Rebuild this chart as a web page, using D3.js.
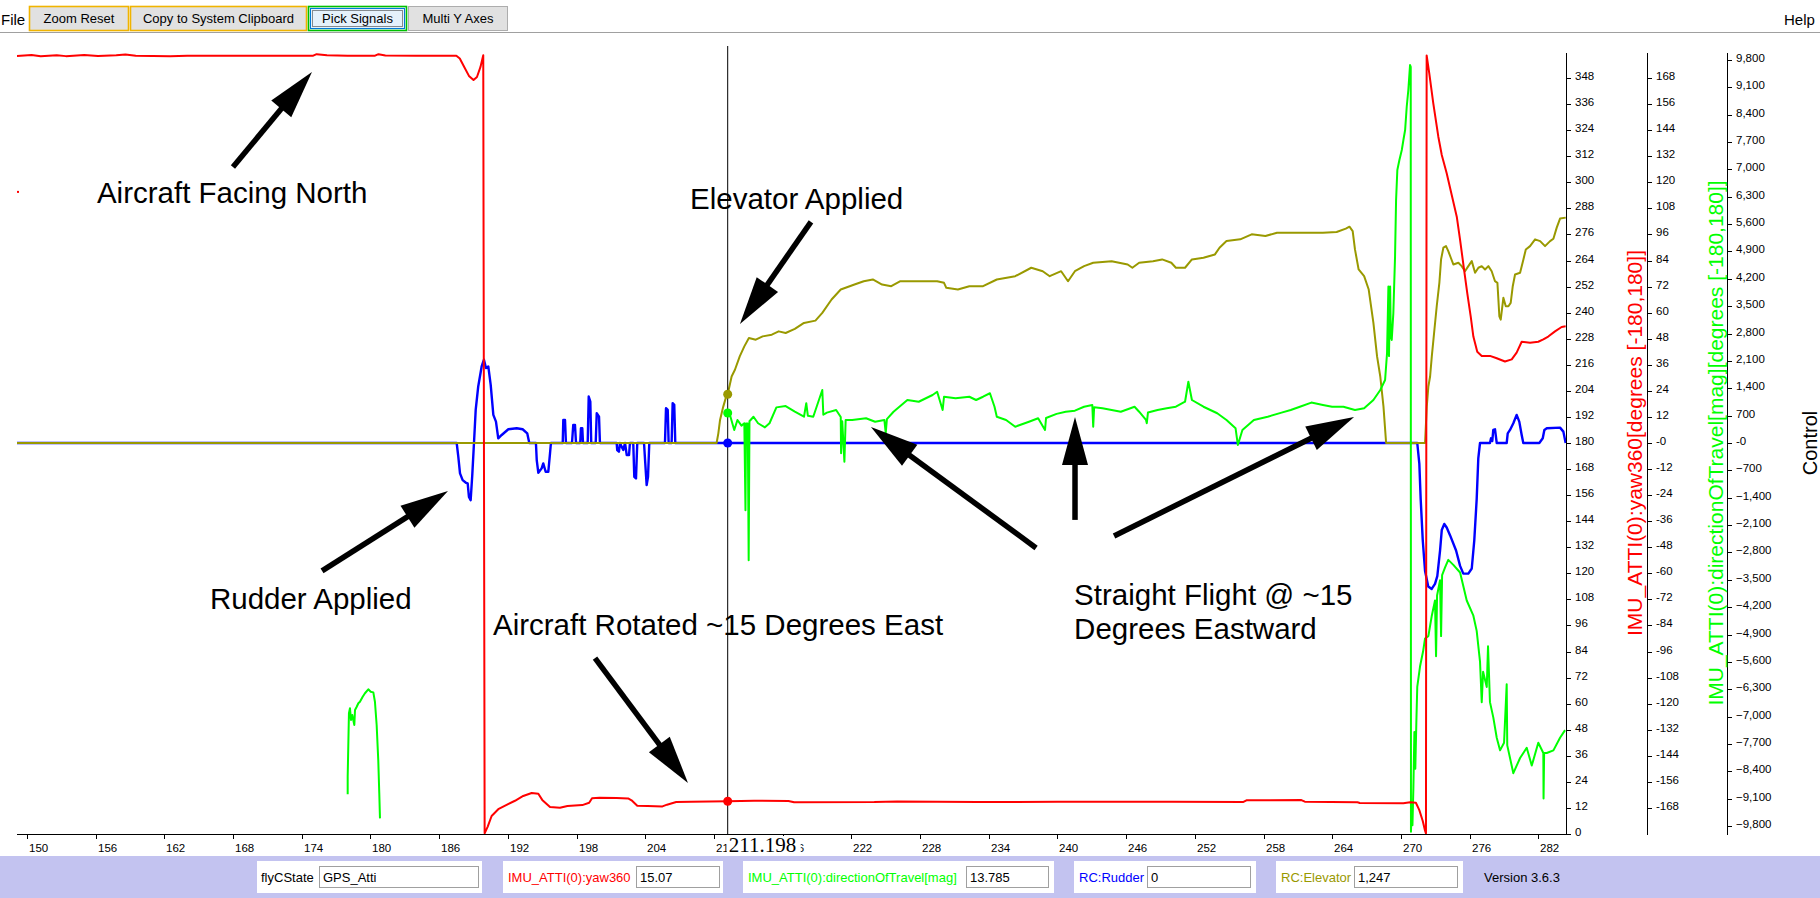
<!DOCTYPE html>
<html><head><meta charset="utf-8">
<script src="https://cdn.jsdelivr.net/npm/d3@7"></script>
<style>
html,body{margin:0;padding:0;background:#fff;overflow:hidden}
svg{display:block;font-family:"Liberation Sans",Arial,sans-serif}
</style></head><body>
<svg id="c" width="1820" height="898"></svg>
<script>
// ---------------- DATA (time in seconds, values in series units) ----------------
const yawTrace = [
[149.13,358.2],[150.4,358.6],[151.2,358.0],[152.6,358.5],[153.4,358.1],[155.0,358.6],[156.2,358.2],[157.8,358.5],[158.6,358.9],[159.5,358.3],[161.0,358.2],[162.5,358.0],[164.0,358.3],[167.0,358.3],[171.0,358.3],[175.0,358.3],[175.3,359.0],[176.2,358.5],[178.0,358.3],[180.4,358.3],[180.7,359.0],[181.3,358.4],[184.0,358.3],[187.5,358.3],[187.8,357.0],[188.2,353.0],[188.6,349.0],[189.0,347.1],[189.3,348.5],[189.6,353.0],[189.85,358.5],
[189.97,0.3],[190.24,3.4],[190.58,8.3],[191.16,11.4],[191.89,13.4],[192.62,15.3],[193.34,17.5],[194.08,18.9],[194.66,18.5],[195.0,15.7],[195.68,12.4],[196.55,12.1],[197.2,12.9],[198.5,13.3],[199.1,14.4],[199.35,16.5],[200.0,16.7],[201.5,16.6],[202.5,16.4],[202.8,15.5],[203.3,13.0],[204.2,12.9],[205.5,12.7],[205.9,13.5],[206.7,14.7],[208.0,14.8],[211.198,15.07],[213.5,15.3],[216.5,15.2],[217.0,14.6],[224.0,14.7],[226.0,15.0],[233.0,14.7],[240.0,14.8],[250.0,14.9],[256.2,14.7],[256.5,15.5],[261.3,15.6],[261.6,14.9],[266.2,14.6],[266.4,14.3],[270.2,14.2],[270.8,14.6],[271.3,14.4],[271.6,11.0],[271.9,6.0],[272.1,1.5],[272.18,0.2],
[272.24,358.4],[272.47,350.2],[272.82,336.4],[273.26,321.0],[273.56,312.6],[273.99,304.2],[274.43,294.2],[274.87,284.2],[275.16,273.5],[275.51,259.7],[275.79,248.9],[276.09,238.2],[276.32,229.0],[276.66,222.0],[277.05,220.1],[277.77,220.1],[278.36,219.0],[279.08,217.5],[279.67,218.5],[280.10,221.6],[280.54,226.6],[281.27,226.2],[281.99,226.6],[282.43,227.7],[282.86,229.0],[283.45,231.4],[284.03,233.4],[284.38,233.7]
];
const yawStray = [[149.13,295.6]];

const dirTraceA = [
[178.01,-161.7],[178.01,-153.6],[178.12,-124.4],[178.21,-122.1],[178.30,-127.5],[178.41,-125.2],[178.59,-129.8],[178.65,-122.9],[178.80,-121.4],[178.94,-119.8],[179.08,-119.1],[179.32,-116.8],[179.52,-115.2],[179.81,-113.4],[180.02,-114.5],[180.25,-114.8],[180.39,-119.1],[180.54,-129.8],[180.68,-145.9],[180.77,-161.3],[180.83,-172.8]
];
const dirTraceB = [
[211.0,13.0],[211.198,13.785],[211.44,12.1],[211.77,6.0],[212.05,10.6],[212.4,8.0],[212.65,9.1],[212.75,-31.0],[212.8,9.0],[212.95,9.0],[213.03,-54.0],[213.1,10.0],[213.45,12.1],[213.85,9.1],[214.45,7.2],[214.85,9.1],[215.45,16.4],[216.26,17.0],[217.06,14.4],[217.86,12.1],[218.06,18.3],[218.2,12.5],[218.67,12.1],[219.46,24.4],[219.55,13.0],[219.86,14.0],[220.67,15.2],[221.07,12.0],[221.1,-4.7],[221.2,10.0],[221.39,-8.6],[221.5,10.6],[222.07,10.6],[223.28,11.4],[224.07,9.8],[224.88,10.6],[225.0,4.5],[225.1,11.0],[225.68,14.4],[226.89,19.8],[227.88,19.0],[229.09,22.1],[229.49,23.6],[229.97,15.2],[230.09,21.3],[231.10,20.6],[232.30,21.3],[232.89,19.8],[233.50,21.3],[234.10,22.9],[234.50,16.7],[234.70,12.1],[235.51,10.6],[236.31,7.5],[237.51,9.8],[238.31,11.4],[238.91,6.0],[239.0,11.5],[239.92,13.4],[240.72,14.4],[241.52,14.9],[242.32,16.7],[243.04,17.5],[243.12,7.5],[243.2,16.5],[243.93,16.0],[244.73,15.2],[245.53,14.4],[246.73,16.7],[247.13,14.4],[247.73,10.6],[247.8,9.1],[247.9,14.0],[248.74,15.2],[249.54,16.0],[250.34,16.7],[251.14,19.0],[251.43,28.2],[251.74,19.8],[252.75,16.7],[253.95,13.7],[254.76,10.6],[255.55,6.8],[255.75,-0.9],[256.15,6.0],[257.15,10.6],[258.36,12.1],[259.57,14.0],[260.37,15.2],[261.17,16.7],[262.17,18.6],[263.18,17.5],[263.98,16.7],[264.97,16.7],[265.98,15.2],[266.78,16.0],[267.59,19.8],[268.19,24.4],[268.61,29.0],[268.78,41.3],[268.90,72.0],[268.95,40.0],[269.05,72.0],[269.11,48.9],[269.19,47.4],[269.33,59.7],[269.48,85.8],[269.57,111.9],[269.68,125.7],[269.86,130.3],[270.07,134.9],[270.21,139.5],[270.36,144.1],[270.50,154.8],[270.64,162.5],[270.79,174.0],[270.85,173.2],
[270.87,-179.0],[270.94,-166.0],[271.0,-176.0],[271.08,-159.0],[271.17,-133.0],[271.25,-150.0],[271.34,-128.6],[271.42,-112.3],[271.66,-102.9],[271.93,-95.9],[272.10,-90.0],[272.39,-88.9],[272.69,-79.5],[272.97,-72.5],[273.06,-98.2],[273.15,-70.2],[273.41,-63.2],[273.50,-88.9],[273.59,-60.8],[273.85,-57.3],[274.13,-53.8],[274.57,-56.1],[275.16,-59.6],[275.74,-72.5],[276.32,-79.5],[276.61,-86.5],[276.90,-100.6],[277.05,-119.3],[277.17,-105.3],[277.49,-112.3],[277.60,-93.6],[277.77,-119.3],[278.06,-126.3],[278.36,-135.7],[278.65,-141.5],[279.00,-138.0],[279.23,-111.1],[279.28,-139.2],[279.81,-152.0],[280.40,-145.0],[280.98,-140.3],[281.42,-148.5],[281.99,-138.0],[282.43,-142.7],[282.45,-163.7],[282.50,-142.7],[282.73,-142.7],[283.31,-141.5],[283.89,-135.7],[284.33,-132.2]
];

const rudderTrace = [
[149.13,0],[187.53,0],[187.67,-350],[187.82,-778],[188.05,-949],[188.34,-1018],[188.49,-1035],[188.60,-1377],[188.75,-1463],[188.89,-820],[189.04,0],[189.19,847],[189.41,1445],[189.71,1958],[189.91,2130],[190.09,1916],[190.29,1958],[190.50,1488],[190.73,718],[190.96,547],[191.16,120],[191.46,205],[192.04,351],[192.77,377],[193.29,351],[193.69,248],[193.87,0],[194.45,0],[194.52,-436],[194.66,-761],[194.95,-649],[195.09,-521],[195.30,-736],[195.53,-736],[195.68,-264],[195.76,0],
[196.79,0],[196.84,590],[196.99,590],[197.07,0],[197.60,0],[197.71,462],[197.86,462],[197.95,0],[198.32,0],[198.38,377],[198.50,377],[198.56,0],[198.97,0],[199.06,1188],[199.20,1060],[199.28,0],[199.67,0],[199.76,762],[199.96,675],[200.04,0],
[201.50,0],[201.55,-180],[201.70,-223],[201.79,0],[201.94,-95],[202.08,-180],[202.23,0],[202.38,-308],[202.58,-308],[202.66,0],[202.95,0],[203.04,-864],[203.19,-906],[203.30,0],[203.89,0],[204.00,-521],[204.12,-1077],[204.24,-864],[204.35,0],
[205.72,0],[205.81,890],[205.96,847],[206.04,0],[206.30,0],[206.39,1018],[206.53,975],[206.62,0],
[271.42,0],[271.60,-526],[271.72,-1437],[271.90,-2488],[272.10,-3273],[272.38,-3669],[272.68,-3733],[272.97,-3602],[273.17,-3404],[273.41,-2750],[273.56,-2227],[273.78,-2071],[273.99,-2161],[274.28,-2357],[274.81,-2750],[275.16,-3143],[275.44,-3340],[275.88,-3340],[276.18,-3210],[276.40,-2488],[276.61,-1437],[276.75,-395],[276.90,0],[277.77,0],[277.86,120],[277.97,50],[278.06,334],[278.21,351],[278.36,0],[279.23,0],[279.32,248],[279.52,334],[279.81,505],[280.10,718],[280.33,547],[280.54,205],[280.68,0],[282.08,0],[282.38,120],[282.52,334],[282.73,377],[283.89,393],[284.18,291],[284.38,0]
];

const elevatorTrace = [
[149.13,0],[210.23,0],[210.38,248],[210.53,590],[210.81,931],[211.11,1231],[211.198,1247],[211.54,1701],[211.83,1873],[212.25,2214],[212.65,2471],[213.05,2686],[213.65,2642],[214.25,2727],[215.05,2771],[215.65,2855],[216.26,2814],[217.06,2917],[217.86,3071],[218.86,3130],[219.46,3327],[220.27,3669],[221.07,3925],[222.27,4053],[223.08,4138],[223.87,4182],[224.68,4053],[225.48,4010],[226.28,4138],[227.89,4138],[229.49,4138],[230.09,4097],[230.29,3969],[231.30,3925],[232.30,4010],[233.50,4010],[234.70,4182],[236.31,4266],[237.71,4482],[238.71,4394],[239.32,4266],[240.32,4394],[240.92,4138],[241.52,4394],[242.32,4523],[243.12,4609],[244.73,4651],[246.13,4566],[246.54,4482],[247.13,4609],[248.34,4651],[249.14,4695],[249.94,4609],[250.34,4482],[251.14,4482],[251.74,4695],[252.75,4738],[253.75,4823],[254.15,4995],[254.76,5164],[255.96,5208],[256.96,5336],[258.16,5293],[259.17,5379],[261.17,5379],[263.18,5379],[264.38,5395],[265.18,5482],[265.50,5533],[265.78,5421],[265.98,4951],[266.30,4438],[266.78,4266],[267.18,3925],[267.59,3071],[267.91,2214],[268.19,1701],[268.47,931],[268.70,0],
[272.10,0],[272.25,931],[272.39,1445],[272.54,1701],[272.69,2214],[272.89,2814],[273.12,3497],[273.35,4097],[273.50,4695],[273.70,4995],[273.93,5036],[274.13,4908],[274.35,4738],[274.57,4566],[275.01,4609],[275.30,4523],[275.59,4394],[275.88,4523],[276.18,4651],[276.47,4353],[276.76,4482],[277.05,4523],[277.34,4438],[277.63,4523],[277.92,4394],[278.21,4138],[278.42,4097],[278.59,3240],[278.71,3155],[278.94,3712],[279.15,3497],[279.38,3497],[279.58,3583],[279.76,4010],[279.96,4310],[280.40,4353],[280.69,4695],[280.90,4951],[281.27,5036],[281.71,5208],[282.15,5164],[282.58,5036],[283.02,5164],[283.31,5225],[283.60,5508],[283.89,5739],[284.39,5764]
];

const cursorT = 211.198;
const cursorYaw = 15.07, cursorDir = 13.785, cursorRudder = 0, cursorElevator = 1247;

const xTickValues = [150,156,162,168,174,180,186,192,198,204,210,216,222,228,234,240,246,252,258,264,270,276,282];
const yawTickValues = [0,12,24,36,48,60,72,84,96,108,120,132,144,156,168,180,192,204,216,228,240,252,264,276,288,300,312,324,336,348];
const dirTickValues = [-168,-156,-144,-132,-120,-108,-96,-84,-72,-60,-48,-36,-24,-12,0,12,24,36,48,60,72,84,96,108,120,132,144,156,168];
const rcTickValues = [-9800,-9100,-8400,-7700,-7000,-6300,-5600,-4900,-4200,-3500,-2800,-2100,-1400,-700,0,700,1400,2100,2800,3500,4200,4900,5600,6300,7000,7700,8400,9100,9800];

const axisTitles = ["IMU_ATTI(0):yaw360[degrees [-180,180]]","IMU_ATTI(0):directionOfTravel[mag][degrees [-180,180]]","Control"];
const toolbarButtons = ["Zoom Reset","Copy to System Clipboard","Pick Signals","Multi Y Axes"];
const statusLabels = ["flyCState","IMU_ATTI(0):yaw360","IMU_ATTI(0):directionOfTravel[mag]","RC:Rudder","RC:Elevator"];
const statusValues = ["GPS_Atti","15.07","13.785","0","1,247"];
const versionText = "Version 3.6.3";

// annotations anchored in (time, yaw360-degree) chart coordinates
const noteTexts = [
  {text:"Aircraft Facing North", t:156.11, v:290.5},
  {text:"Elevator Applied", t:207.91, v:287.8},
  {text:"Rudder Applied", t:165.98, v:103.6},
  {text:"Aircraft Rotated ~15 Degrees East", t:190.70, v:91.6},
  {text:"Straight Flight @ ~15", t:241.45, v:105.4},
  {text:"Degrees Eastward", t:241.45, v:89.8}
];
const noteArrows = [
  {t1:167.99, v1:307.1, t2:174.89, v2:350.8},
  {t1:218.47, v1:281.8, t2:212.27, v2:234.8},
  {t1:175.77, v1:121.1, t2:186.77, v2:157.9},
  {t1:199.61, v1:81.0, t2:207.73, v2:23.5},
  {t1:238.13, v1:131.7, t2:223.71, v2:187.4},
  {t1:241.53, v1:144.6, t2:241.53, v2:192.0},
  {t1:244.94, v1:137.2, t2:265.90, v2:192.0}
];

// ---------------- LAYOUT ----------------
const W = 1820, H = 898;
const P = {left:17, right:1566, top:52, bottom:834};
const COL = {yaw:"#ff0000", dir:"#00ff00", rudder:"#0000ff", elev:"#999900"};
const svg = d3.select("#c");

const x = d3.scaleLinear().domain([149.13, 284.41]).range([P.left, P.right]);
const yYaw = d3.scaleLinear().domain([0,360]).range([P.bottom, P.top]);
const yDir = d3.scaleLinear().domain([-180,180]).range([P.bottom, P.top]);
const yRc = d3.scaleLinear().domain([-10000,10000]).range([P.bottom, P.top]);

// ---------------- TOOLBAR ----------------
svg.append("text").attr("x",1).attr("y",25).attr("font-size",15).text("File");
const btnGeom = [[29,99],[130,176],[308,98],[408,99]];
const btnStroke = ["#f0b400","#f0b400","#00c000","#adadad"];
const btnFill = ["#e1e1e1","#e1e1e1","#e5f1fb","#e1e1e1"];
toolbarButtons.forEach((b,i)=>{
  const [bx,bw] = btnGeom[i];
  svg.append("rect").attr("x",bx+0.5).attr("y",6.5).attr("width",bw).attr("height",24)
    .attr("fill",btnFill[i]).attr("stroke",btnStroke[i]).attr("stroke-width",i===3?1:1.6);
  if(i===2){
    svg.append("rect").attr("x",bx+2.5).attr("y",8.5).attr("width",bw-4).attr("height",20)
      .attr("fill","none").attr("stroke","#0078d7").attr("stroke-width",1);
    svg.append("rect").attr("x",bx+4.5).attr("y",10.5).attr("width",bw-8).attr("height",16)
      .attr("fill","none").attr("stroke","#222").attr("stroke-width",1).attr("stroke-dasharray","1,1");
  }
  svg.append("text").attr("x",bx+bw/2+0.5).attr("y",23).attr("text-anchor","middle")
    .attr("font-size",13).text(b);
});
svg.append("text").attr("x",1784).attr("y",25).attr("font-size",15).text("Help");
svg.append("line").attr("x1",0).attr("x2",W).attr("y1",32.5).attr("y2",32.5).attr("stroke","#a0a0a0");

// ---------------- SERIES ----------------
const g = svg.append("g");
function trace(data, ys, color, w){
  g.append("path").datum(data).attr("fill","none").attr("stroke",color).attr("stroke-width",w)
    .attr("stroke-linejoin","round")
    .attr("d", d3.line().x(d=>x(d[0])).y(d=>ys(d[1])));
}
trace(rudderTrace, yRc, COL.rudder, 2.4);
trace(elevatorTrace, yRc, COL.elev, 2);
trace(dirTraceA, yDir, COL.dir, 2);
trace(dirTraceB, yDir, COL.dir, 2);
trace(yawTrace, yYaw, COL.yaw, 2);
g.selectAll(".stray").data(yawStray).enter().append("rect")
  .attr("x",d=>x(d[0])).attr("y",d=>yYaw(d[1])-1).attr("width",2).attr("height",2).attr("fill",COL.yaw);

// cursor
svg.append("line").attr("x1",x(cursorT)).attr("x2",x(cursorT)).attr("y1",P.top-6).attr("y2",P.bottom)
  .attr("stroke","#000").attr("stroke-width",1);
[[yRc(cursorElevator),COL.elev],[yDir(cursorDir),COL.dir],[yRc(cursorRudder),COL.rudder],[yYaw(cursorYaw),COL.yaw]]
  .forEach(([cy,c])=>svg.append("circle").attr("cx",x(cursorT)).attr("cy",cy).attr("r",4.5).attr("fill",c));

// ---------------- X AXIS ----------------
svg.append("line").attr("x1",P.left).attr("x2",P.right).attr("y1",P.bottom+0.5).attr("y2",P.bottom+0.5).attr("stroke","#000");
xTickValues.forEach(v=>{
  const xx = Math.round(x(v))+0.5;
  svg.append("line").attr("x1",xx).attr("x2",xx).attr("y1",P.bottom).attr("y2",P.bottom+5).attr("stroke","#000");
  svg.append("text").attr("x",xx+1.5).attr("y",851.5).attr("font-size",11.5).text(v);
});
// cursor value box
svg.append("rect").attr("x",x(cursorT)-1).attr("y",836).attr("width",74).attr("height",20).attr("fill","#fff");
svg.append("text").attr("x",x(cursorT)+1).attr("y",852).attr("font-family","'Liberation Serif','Times New Roman',serif")
  .attr("font-size",21).text(cursorT.toFixed(3));

// ---------------- RIGHT AXES ----------------
function rightAxis(ax, ys, ticks, fmt){
  svg.append("line").attr("x1",ax+0.5).attr("x2",ax+0.5).attr("y1",P.top+1).attr("y2",P.bottom+1).attr("stroke","#000");
  ticks.forEach(v=>{
    const yy = Math.round(ys(v))+0.5;
    svg.append("line").attr("x1",ax).attr("x2",ax+5).attr("y1",yy).attr("y2",yy).attr("stroke","#000");
    svg.append("text").attr("x",ax+9).attr("y",yy+1.5).attr("font-size",11.5).text(fmt(v));
  });
}
const comma = d3.format(",");
rightAxis(1566, yYaw, yawTickValues, v=>String(v));
rightAxis(1647, yDir, dirTickValues, v=> v===0 ? "-0" : String(v));
rightAxis(1727, yRc, rcTickValues, v=> v===0 ? "-0" : comma(v));

const midY = (P.top+P.bottom)/2;
[[1642,axisTitles[0],COL.yaw,21],[1723,axisTitles[1],COL.dir,21],[1817,axisTitles[2],"#000",20]].forEach(([tx,t,c,fs])=>{
  svg.append("text").attr("transform",`translate(${tx},${midY}) rotate(-90)`).attr("text-anchor","middle")
    .attr("font-size",fs).attr("fill",c).text(t);
});

// ---------------- ANNOTATIONS ----------------
noteTexts.forEach(n=>{
  svg.append("text").attr("x",x(n.t)).attr("y",yYaw(n.v)).attr("font-size",29.5).attr("fill","#000").text(n.text);
});
noteArrows.forEach(a=>{
  const x1=x(a.t1), y1=yYaw(a.v1), x2=x(a.t2), y2=yYaw(a.v2);
  const dx=x2-x1, dy=y2-y1, L=Math.hypot(dx,dy), ux=dx/L, uy=dy/L;
  const hl=48, hw=13;
  const bx=x2-ux*hl, by=y2-uy*hl;
  svg.append("line").attr("x1",x1).attr("y1",y1).attr("x2",bx+ux*4).attr("y2",by+uy*4)
    .attr("stroke","#000").attr("stroke-width",5.5);
  svg.append("path").attr("d",`M${x2},${y2}L${bx-uy*hw},${by+ux*hw}L${bx+uy*hw},${by-ux*hw}Z`).attr("fill","#000");
});

// ---------------- STATUS BAR ----------------
svg.append("rect").attr("x",0).attr("y",856).attr("width",W).attr("height",H-856).attr("fill","#c3c3f0");
const boxGeom = [[257,482,261,319,478],[503,723,508,636,719],[743,1054,748,966,1048],[1074,1256,1079,1147,1250],[1276,1463,1281,1354,1457]];
const statusColors = ["#000",COL.yaw,COL.dir,COL.rudder,COL.elev];
statusLabels.forEach((lab,i)=>{
  const [b0,b1,lx,i0,i1] = boxGeom[i];
  svg.append("rect").attr("x",b0).attr("y",861).attr("width",b1-b0).attr("height",32).attr("fill","#fff");
  svg.append("text").attr("x",lx).attr("y",882).attr("font-size",13).attr("fill",statusColors[i]).text(lab);
  svg.append("rect").attr("x",i0+0.5).attr("y",866.5).attr("width",i1-i0).attr("height",21)
    .attr("fill","#fff").attr("stroke","#a0a0a0");
  svg.append("text").attr("x",i0+4).attr("y",882).attr("font-size",13).attr("fill","#000").text(statusValues[i]);
});
svg.append("text").attr("x",1484).attr("y",882).attr("font-size",13).attr("fill","#000").text(versionText);
</script>
</body></html>
